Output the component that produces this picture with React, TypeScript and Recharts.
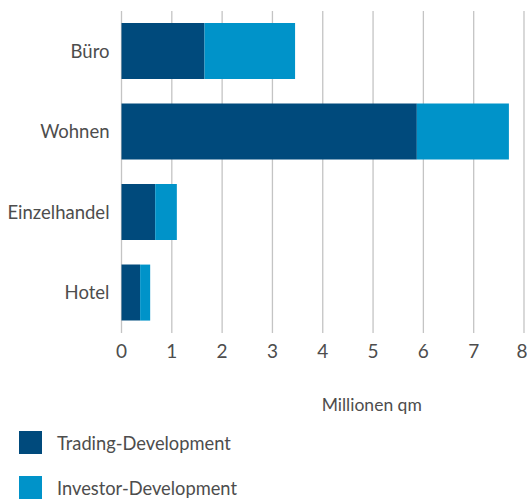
import React from "react";
import { BarChart, Bar, XAxis, YAxis, CartesianGrid } from "recharts";

const categories = ["Büro", "Wohnen", "Einzelhandel", "Hotel"];
const tradingValues = [1.65, 5.87, 0.67, 0.37];
const investorValues = [1.8, 1.83, 0.43, 0.2];
const xTicks = [0, 1, 2, 3, 4, 5, 6, 7, 8];
const seriesNames = ["Trading-Development", "Investor-Development"];
const seriesColors = ["#004a7c", "#0093c9"];

const FONT = "Lato, 'Open Sans', sans-serif";
const TEXT = "#4d4d4d";

// last tick label is pulled in a bit so it isn't clipped at the right edge
function XTick(props: any) {
  const { x, y, payload, index } = props;
  const last = index === xTicks.length - 1;
  return (
    <text
      x={last ? x - 2 : x}
      y={y}
      dy={17}
      textAnchor="middle"
      fill={TEXT}
      fontSize={19}
      fontFamily={FONT}
    >
      {payload.value}
    </text>
  );
}

export default function App() {
  const data = categories.map((name, i) => ({
    name,
    trading: tradingValues[i],
    investor: investorValues[i],
  }));

  return (
    <div style={{ position: "absolute", left: 0, top: 0, width: 527, height: 500, fontFamily: FONT, background: "#fff" }}>
      <BarChart
        width={527}
        height={500}
        data={data}
        layout="vertical"
        barCategoryGap="15%"
        margin={{ top: 11, right: 3, left: 0, bottom: 87 }}
      >
        <CartesianGrid horizontal={false} stroke="#c4c4c4" strokeWidth={1.3} />
        <XAxis
          type="number"
          domain={[0, 8]}
          ticks={xTicks}
          interval={0}
          axisLine={false}
          tickLine={false}
          height={80}
          tick={<XTick />}
          label={{ value: "Millionen qm", position: "insideBottom", offset: 2, dx: 49, fill: TEXT, fontSize: 17.5, fontFamily: FONT }}
        />
        <YAxis
          type="category"
          dataKey="name"
          width={121.5}
          axisLine={false}
          tickLine={false}
          tickMargin={6}
          tick={{ fill: TEXT, fontSize: 18.5, fontFamily: FONT }}
        />
        <Bar dataKey="trading" stackId="a" fill={seriesColors[0]} isAnimationActive={false} />
        <Bar dataKey="investor" stackId="a" fill={seriesColors[1]} isAnimationActive={false} />
      </BarChart>
      {seriesNames.map((name, i) => (
        <div
          key={name}
          style={{ position: "absolute", left: 19, top: 431 + i * 45, height: 23, display: "flex", alignItems: "center" }}
        >
          <div style={{ width: 23, height: 23, background: seriesColors[i] }} />
          <span style={{ marginLeft: 15, fontSize: 18.3, color: TEXT }}>{name}</span>
        </div>
      ))}
    </div>
  );
}
